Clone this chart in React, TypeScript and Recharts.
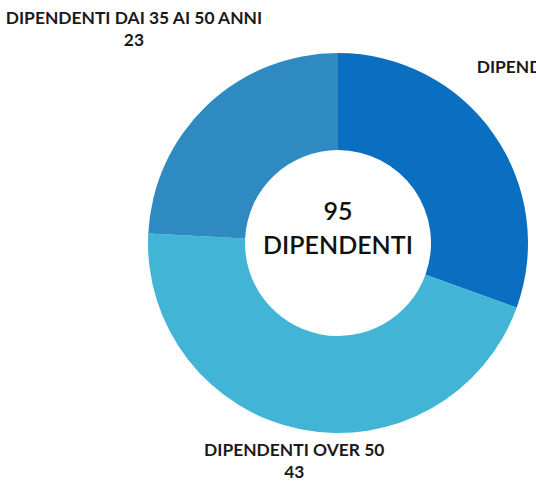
import React from "react";
import { PieChart, Pie, Cell } from "recharts";

const categories = [
  "DIPENDENTI UNDER 35",
  "DIPENDENTI OVER 50",
  "DIPENDENTI DAI 35 AI 50 ANNI",
];
const values = [29, 43, 23];
const colors = ["#0A6FC1", "#42B5D7", "#2E8AC0"];
const total = values.reduce((a, b) => a + b, 0);
const centerLines = [String(total), "DIPENDENTI"];

const data = categories.map((name, i) => ({ name, value: values[i] }));

const CX = 338;
const CY = 243;
// distance of each outside label from the centre
const labelRadius = [288, 222, 296];
const RAD = Math.PI / 180;
const FONT = "Lato, 'Open Sans', sans-serif";

const renderLabel = (props: any) => {
  const { cx, cy, midAngle, index, name, value } = props;
  const r = labelRadius[index];
  const x = cx + r * Math.cos(-midAngle * RAD);
  const y = cy + r * Math.sin(-midAngle * RAD);
  return (
    <text
      x={x}
      y={y}
      textAnchor="middle"
      fill="#1a1a1a"
      fontFamily={FONT}
      fontWeight={700}
      fontSize={17.4}
    >
      <tspan x={x} dy={-5}>
        {name}
      </tspan>
      <tspan x={x} dy={22}>
        {value}
      </tspan>
    </text>
  );
};

export default function App() {
  return (
    <div style={{ position: "absolute", left: 0, top: 0, width: 536, height: 483, background: "#fff" }}>
      <PieChart width={536} height={483} margin={{ top: 0, right: 0, bottom: 0, left: 0 }}>
        <Pie
          data={data}
          dataKey="value"
          nameKey="name"
          cx={CX}
          cy={CY}
          innerRadius={93}
          outerRadius={190}
          startAngle={90}
          endAngle={-270}
          stroke="none"
          label={renderLabel}
          labelLine={false}
          isAnimationActive={false}
        >
          {data.map((d, i) => (
            <Cell key={d.name} fill={colors[i]} />
          ))}
        </Pie>
      </PieChart>
      <div
        style={{
          position: "absolute",
          left: CX - 90,
          top: CY - 50,
          width: 180,
          textAlign: "center",
          fontFamily: FONT,
          fontWeight: 600,
          fontSize: 25,
          lineHeight: "34px",
          color: "#111",
        }}
      >
        <div>{centerLines[0]}</div>
        <div>{centerLines[1]}</div>
      </div>
    </div>
  );
}
